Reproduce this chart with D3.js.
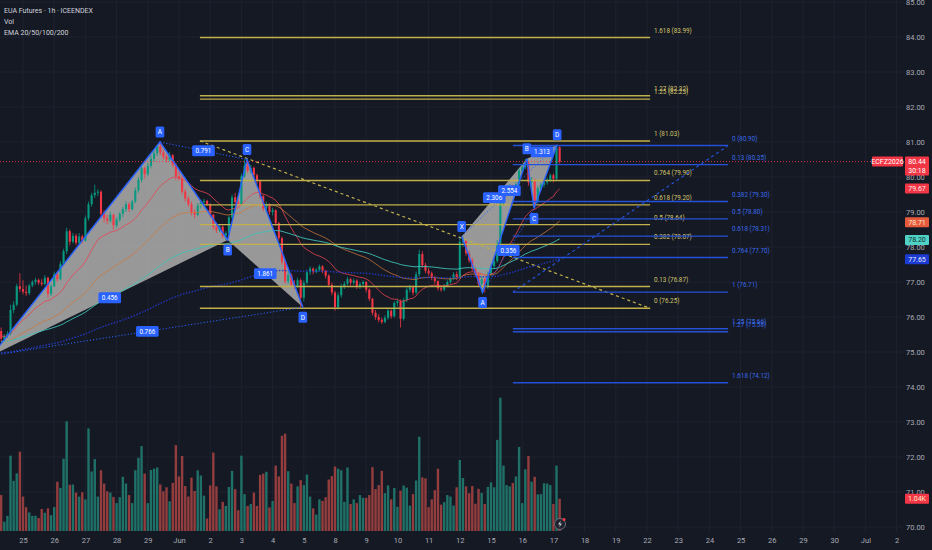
<!DOCTYPE html>
<html>
<head>
<meta charset="utf-8">
<script src="https://cdn.jsdelivr.net/npm/d3@7"></script>
<style>
  html, body { margin: 0; padding: 0; background: #151924; }
  svg { display: block; font-family: Roboto, "Noto Sans", sans-serif; }
</style>
</head>
<body>
<svg id="chart" width="932" height="550"></svg>
<script>
"use strict";

// hourly bars, 22 May (partial) .. 17 Jun
var barOpen = [
  75.60, 75.38, 75.46, 75.52, 76.20, 76.35, 76.88, 76.80, 76.72, 76.68,
  76.90, 77.00, 77.06, 76.98, 76.94, 77.12, 76.66, 76.88, 77.22, 77.08,
  77.52, 77.88, 78.45, 78.15, 78.32, 78.12, 78.30, 78.18, 78.82, 79.22,
  79.48, 79.55, 79.58, 78.95, 78.82, 78.75, 78.92, 78.62, 78.78, 78.95,
  79.08, 79.22, 79.08, 79.30, 79.62, 79.92, 80.25, 80.08, 80.32, 80.52,
  80.68, 80.88, 80.70, 80.58, 80.50, 80.62, 80.35, 80.02, 79.95, 79.58,
  79.38, 79.22, 79.00, 78.92, 79.18, 79.28, 79.32, 79.22, 78.92, 78.58,
  78.48, 78.58, 78.32, 78.40, 78.85, 79.42, 79.28, 79.22, 80.02, 80.32,
  80.18, 80.26, 80.05, 79.88, 79.45, 79.10, 79.22, 79.00, 79.05, 78.68,
  78.25, 77.58, 77.02, 77.20, 76.92, 76.88, 77.05, 76.55, 76.98, 77.28,
  77.38, 77.28, 77.35, 77.45, 77.32, 77.18, 76.92, 76.70, 76.28, 76.62,
  76.88, 76.95, 77.08, 76.98, 77.04, 76.86, 76.94, 77.00, 76.78, 76.52,
  76.12, 76.00, 75.92, 75.86, 75.98, 76.18, 76.02, 76.40, 76.45, 75.95,
  76.48, 76.78, 76.85, 76.70, 77.22, 77.80, 77.48, 77.32, 77.25, 77.12,
  77.02, 76.82, 76.78, 76.90, 77.00, 77.10, 77.22, 77.12, 78.15, 78.18,
  77.82, 77.62, 77.38, 77.22, 76.95, 77.08, 76.85, 77.22, 77.45, 77.60,
  78.10, 79.25, 79.55, 79.65, 79.72, 79.58, 79.80, 80.18, 80.28, 80.40,
  79.85, 79.92, 79.30, 79.68, 79.78, 79.85, 79.92, 80.05, 79.95, 80.85
];
var barHigh = [
  75.70, 75.52, 75.60, 76.35, 76.45, 76.95, 77.25, 77.05, 76.90, 76.95,
  77.05, 77.12, 77.10, 77.08, 77.20, 77.15, 76.95, 77.30, 77.30, 77.60,
  77.95, 78.55, 78.50, 78.40, 78.38, 78.40, 78.35, 78.90, 79.30, 79.55,
  79.78, 79.65, 79.62, 79.05, 78.92, 79.00, 78.95, 78.85, 79.00, 79.15,
  79.30, 79.28, 79.35, 79.70, 80.00, 80.35, 80.30, 80.40, 80.62, 80.75,
  80.92, 81.02, 80.78, 80.65, 80.72, 80.66, 80.40, 80.20, 80.05, 79.65,
  79.45, 79.30, 79.08, 79.25, 79.35, 79.38, 79.35, 79.25, 78.95, 78.70,
  78.65, 78.62, 78.45, 78.90, 79.50, 79.55, 79.35, 80.10, 80.50, 80.45,
  80.35, 80.30, 80.10, 79.92, 79.50, 79.30, 79.25, 79.12, 79.08, 78.72,
  78.30, 77.65, 77.30, 77.25, 77.05, 77.12, 77.10, 77.05, 77.35, 77.45,
  77.42, 77.40, 77.50, 77.48, 77.35, 77.22, 76.98, 76.75, 76.70, 76.95,
  77.02, 77.15, 77.12, 77.10, 77.08, 77.00, 77.05, 77.02, 76.82, 76.55,
  76.20, 76.08, 75.98, 76.05, 76.25, 76.22, 76.45, 76.52, 76.50, 76.55,
  76.85, 76.92, 76.90, 77.30, 77.92, 77.88, 77.55, 77.40, 77.30, 77.18,
  77.05, 76.90, 76.95, 77.05, 77.15, 77.28, 77.30, 78.30, 78.28, 78.20,
  77.90, 77.70, 77.45, 77.28, 77.15, 77.12, 77.30, 77.50, 77.68, 78.20,
  79.35, 79.65, 79.72, 79.80, 79.78, 79.85, 80.25, 80.35, 80.52, 80.45,
  80.00, 79.95, 79.75, 79.85, 79.92, 79.98, 80.10, 80.10, 80.92, 80.88
];
var barLow = [
  75.30, 75.32, 75.40, 75.48, 76.10, 76.30, 76.72, 76.65, 76.60, 76.62,
  76.85, 76.92, 76.92, 76.88, 76.90, 76.55, 76.60, 76.85, 77.00, 77.05,
  77.48, 77.80, 78.05, 78.10, 78.05, 78.08, 78.10, 78.15, 78.75, 79.15,
  79.40, 79.45, 78.85, 78.70, 78.65, 78.70, 78.50, 78.55, 78.72, 78.85,
  79.00, 79.00, 79.05, 79.25, 79.55, 79.85, 79.95, 80.02, 80.25, 80.45,
  80.60, 80.62, 80.50, 80.42, 80.45, 80.28, 79.92, 79.90, 79.50, 79.30,
  79.15, 78.90, 78.82, 78.88, 79.10, 79.15, 79.18, 78.85, 78.50, 78.40,
  78.42, 78.25, 78.20, 78.35, 78.80, 79.20, 79.15, 79.18, 79.98, 80.12,
  80.10, 79.98, 79.80, 79.38, 79.02, 79.00, 78.92, 78.90, 78.60, 78.18,
  77.50, 76.95, 76.95, 76.85, 76.80, 76.82, 76.28, 76.45, 76.92, 77.20,
  77.22, 77.25, 77.30, 77.25, 77.10, 76.85, 76.62, 76.18, 76.22, 76.55,
  76.80, 76.90, 76.90, 76.92, 76.80, 76.80, 76.88, 76.70, 76.45, 76.05,
  75.92, 75.85, 75.80, 75.82, 75.92, 75.95, 75.98, 76.30, 75.70, 75.90,
  76.42, 76.70, 76.62, 76.65, 77.15, 77.40, 77.25, 77.18, 77.05, 76.95,
  76.75, 76.72, 76.74, 76.85, 76.95, 77.05, 77.05, 77.08, 78.00, 77.75,
  77.55, 77.30, 77.15, 76.85, 76.70, 76.70, 76.80, 77.18, 77.40, 77.55,
  78.05, 79.18, 79.45, 79.55, 79.50, 79.52, 79.75, 80.12, 80.22, 79.75,
  79.60, 79.10, 79.25, 79.60, 79.70, 79.78, 79.85, 79.85, 79.90, 80.38
];
var barClose = [
  75.38, 75.46, 75.52, 76.20, 76.35, 76.88, 76.80, 76.72, 76.68, 76.90,
  77.00, 77.06, 76.98, 76.94, 77.12, 76.66, 76.88, 77.22, 77.08, 77.52,
  77.88, 78.45, 78.15, 78.32, 78.12, 78.30, 78.18, 78.82, 79.22, 79.48,
  79.55, 79.58, 78.95, 78.82, 78.75, 78.92, 78.62, 78.78, 78.95, 79.08,
  79.22, 79.08, 79.30, 79.62, 79.92, 80.25, 80.08, 80.32, 80.52, 80.68,
  80.88, 80.70, 80.58, 80.50, 80.62, 80.35, 80.02, 79.95, 79.58, 79.38,
  79.22, 79.00, 78.92, 79.18, 79.28, 79.32, 79.22, 78.92, 78.58, 78.48,
  78.58, 78.32, 78.40, 78.85, 79.42, 79.28, 79.22, 80.02, 80.32, 80.18,
  80.26, 80.05, 79.88, 79.45, 79.10, 79.22, 79.00, 79.05, 78.68, 78.25,
  77.58, 77.02, 77.20, 76.92, 76.88, 77.05, 76.55, 76.98, 77.28, 77.38,
  77.28, 77.35, 77.45, 77.32, 77.18, 76.92, 76.70, 76.28, 76.62, 76.88,
  76.95, 77.08, 76.98, 77.04, 76.86, 76.94, 77.00, 76.78, 76.52, 76.12,
  76.00, 75.92, 75.86, 75.98, 76.18, 76.02, 76.40, 76.45, 75.95, 76.48,
  76.78, 76.85, 76.70, 77.22, 77.80, 77.48, 77.32, 77.25, 77.12, 77.02,
  76.82, 76.78, 76.90, 77.00, 77.10, 77.22, 77.12, 78.15, 78.18, 77.82,
  77.62, 77.38, 77.22, 76.95, 77.08, 76.85, 77.22, 77.45, 77.60, 78.10,
  79.25, 79.55, 79.65, 79.72, 79.58, 79.80, 80.18, 80.28, 80.40, 79.85,
  79.92, 79.30, 79.68, 79.78, 79.85, 79.92, 80.05, 79.95, 80.85, 80.44
];
var barVolume = [
  1160, 300, 490, 2430, 1620, 1860, 2560, 1110, 770, 600,
  490, 490, 420, 710, 590, 730, 510, 770, 1590, 1390,
  2330, 3540, 1490, 1500, 1240, 1110, 1250, 1020, 3310, 1920,
  2320, 1110, 1960, 1530, 1280, 1240, 1100, 900, 1090, 1750,
  1530, 1160, 900, 1960, 2360, 2740, 1850, 900, 1970, 2010,
  2050, 1500, 1280, 1410, 960, 1550, 2770, 1760, 2420, 1450,
  1110, 1720, 1290, 1960, 1790, 1140, 400, 1470, 2530, 1440,
  700, 940, 810, 1420, 1940, 1350, 670, 2430, 1190, 810,
  870, 1240, 810, 1810, 1850, 1910, 760, 970, 2110, 1760,
  3070, 3140, 1930, 1530, 900, 1440, 1640, 1480, 1820, 1110,
  730, 530, 1020, 970, 1090, 1660, 1770, 2080, 2010, 1960,
  940, 2050, 870, 1020, 900, 1160, 1070, 1070, 1160, 2060,
  1350, 1480, 1940, 1220, 1470, 1020, 1390, 780, 1300, 1470,
  1400, 820, 1190, 1630, 3040, 1730, 1700, 770, 1020, 1320,
  2010, 850, 930, 1160, 1110, 820, 1410, 2290, 1710, 1440,
  1220, 1450, 880, 1360, 1230, 870, 1420, 1570, 1410, 2940,
  4300, 2110, 1480, 1440, 1550, 1760, 2710, 900, 1990, 2420,
  1590, 1750, 1180, 1190, 1540, 1530, 1480, 870, 2110, 1040
];

// date axis: one label per trading day, 10 hourly slots a day
var dayLabels = ["25", "26", "27", "28", "29", "Jun", "2", "3", "4", "5", "8", "9", "10", "11", "12",
                 "15", "16", "17", "18", "19", "22", "23", "24", "25", "26", "29", "30", "Jul", "2"];
var priceTicks = [70, 71, 72, 73, 74, 75, 76, 77, 78, 79, 80, 81, 82, 83, 84, 85];

// EMA 20/50/100/200 - start values read at the left edge, last values from the axis tags
var emaPeriods = [20, 50, 100, 200];
var emaStart = [75.45, 75.30, 75.30, 74.98];
var emaTagValues = [79.67, 78.71, 78.20, 77.65];

// harmonic patterns, points as [slot, price]
var pointNames = ["X", "A", "B", "C", "D"];
var leftPattern = [[-3.0, 74.90], [50.9, 81.00], [72.6, 78.20], [78.8, 80.50], [96.7, 76.28]];
var leftRatios = ["0.456", "0.791", "1.861", "0.766"];   // XB, AC, BD, XD
var rightPattern = [[147.6, 78.30], [154.3, 76.70], [168.5, 80.52], [170.8, 79.10], [178.2, 80.92]];
var rightRatios = ["2.306", "0.356", "1.313", "2.554"];

// fib retracements: [slot, price] of start and end, level 0 sits on the end point
var fibLevels = [0, 0.13, 0.382, 0.5, 0.618, 0.764, 1, 1.25, 1.27, 1.618];
var yellowFibFrom = [63.7, 81.030];
var yellowFibTo = [208.0, 76.248];
var blueFibFrom = [164.0, 76.710];
var blueFibTo = [233.0, 80.898];

var lastPriceText = "80.44";
var countdownText = "30:18";
var symbolText = "ECFZ2026";

// ---------------------------------------------------------------

var svg = d3.select('#chart');
var plotRight = 903;
var upColor = '#089981', downColor = '#f23645';
var fibYellow = '#c2b04a', fibYellowText = '#d4c56c';
var fibBlue = '#2451d6', fibBlueText = '#3a6ae8';
var patternBlue = '#2962ff';

var x = d3.scaleLinear().domain([7, 177]).range([23, 553.4]);
var y = d3.scaleLinear().domain([70, 85]).range([527, 2]);
var yVol = d3.scaleLinear().domain([0, 4300]).range([531, 397.7]);

var daySlots = dayLabels.map(function(d, i) { return 7 + 10 * i; });
var bars = d3.range(barClose.length);

svg.append('rect')
  .attr('width', 932).attr('height', 550)
  .attr('fill', '#151924');

// grid
var grid = svg.append('g');
grid.selectAll('.gx')
  .data(daySlots)
  .enter().append('line')
  .attr('x1', function(d) { return x(d); })
  .attr('x2', function(d) { return x(d); })
  .attr('y1', 0).attr('y2', 533)
  .attr('stroke', '#1e2230').attr('stroke-width', 1);
grid.selectAll('.gy')
  .data(priceTicks)
  .enter().append('line')
  .attr('x1', 0).attr('x2', plotRight)
  .attr('y1', function(d) { return y(d); })
  .attr('y2', function(d) { return y(d); })
  .attr('stroke', '#1e2230').attr('stroke-width', 1);

// volume
svg.append('g').selectAll('rect')
  .data(bars)
  .enter().append('rect')
  .attr('x', function(i) { return x(i) - 1.2; })
  .attr('width', 2.4)
  .attr('y', function(i) { return yVol(barVolume[i]); })
  .attr('height', function(i) { return yVol(0) - yVol(barVolume[i]); })
  .attr('fill', function(i) { return barClose[i] >= barOpen[i] ? '#1f7168' : '#933d3e'; });

function pt(p) { return [x(p[0]), y(p[1])]; }

// pattern fills (under the candles)
var fills = svg.append('g');
[leftPattern, rightPattern].forEach(function(pat) {
  [[pat[0], pat[1], pat[2]], [pat[2], pat[3], pat[4]]].forEach(function(tri) {
    fills.append('path')
      .attr('d', 'M' + tri.map(function(p) { return pt(p).join(','); }).join('L') + 'Z')
      .attr('fill', '#a3a3a3')
      .attr('fill-opacity', 0.93);
  });
});

// candles
var candles = svg.append('g');
candles.selectAll('line')
  .data(bars)
  .enter().append('line')
  .attr('x1', function(i) { return x(i); })
  .attr('x2', function(i) { return x(i); })
  .attr('y1', function(i) { return y(barHigh[i]); })
  .attr('y2', function(i) { return y(barLow[i]); })
  .attr('stroke', function(i) { return barClose[i] >= barOpen[i] ? upColor : downColor; })
  .attr('stroke-width', 0.8);
candles.selectAll('rect')
  .data(bars)
  .enter().append('rect')
  .attr('x', function(i) { return x(i) - 1.05; })
  .attr('width', 2.1)
  .attr('y', function(i) { return y(Math.max(barOpen[i], barClose[i])); })
  .attr('height', function(i) { return Math.max(0.8, Math.abs(y(barOpen[i]) - y(barClose[i]))); })
  .attr('fill', function(i) { return barClose[i] >= barOpen[i] ? upColor : downColor; });

// EMAs
function ema(values, period, seed) {
  var k = 2 / (period + 1), prev = seed;
  return values.map(function(v, i) {
    if (i > 0) prev = prev + k * (v - prev);
    return prev;
  });
}
var emaStyles = [
  { color: '#e8434f', width: 0.9, dash: null, opacity: 0.9 },
  { color: '#d07838', width: 0.9, dash: null, opacity: 0.85 },
  { color: '#3ec2b6', width: 1.0, dash: null, opacity: 0.9 },
  { color: '#2338c0', width: 1.4, dash: '1.5,1.5', opacity: 0.95 }
];
var emaLine = d3.line()
  .x(function(d, i) { return x(i); })
  .y(function(d) { return y(d); });
var emaGroup = svg.append('g');
emaPeriods.forEach(function(p, n) {
  emaGroup.append('path')
    .attr('d', emaLine(ema(barClose, p, emaStart[n])))
    .attr('fill', 'none')
    .attr('stroke', emaStyles[n].color)
    .attr('stroke-width', emaStyles[n].width)
    .attr('stroke-opacity', emaStyles[n].opacity)
    .attr('stroke-dasharray', emaStyles[n].dash);
});

// fib retracements
function drawFib(from, to, lineColor, textColor) {
  var g = svg.append('g');
  var x1 = x(Math.min(from[0], to[0])), x2 = x(Math.max(from[0], to[0]));
  fibLevels.forEach(function(lvl) {
    var price = to[1] + lvl * (from[1] - to[1]);
    g.append('line')
      .attr('x1', x1).attr('x2', x2)
      .attr('y1', y(price)).attr('y2', y(price))
      .attr('stroke', lineColor).attr('stroke-width', 1.4);
    g.append('text')
      .attr('x', x2 + 4)
      .attr('y', y(price) - 5)
      .attr('fill', textColor)
      .attr('font-size', '6.3px')
      .text(lvl + ' (' + price.toFixed(2) + ')');
  });
  g.append('line')
    .attr('x1', x(from[0])).attr('y1', y(from[1]))
    .attr('x2', x(to[0])).attr('y2', y(to[1]))
    .attr('stroke', lineColor).attr('stroke-width', 1.2)
    .attr('stroke-dasharray', '3,3');
}
drawFib(yellowFibFrom, yellowFibTo, fibYellow, fibYellowText);
drawFib(blueFibFrom, blueFibTo, fibBlue, fibBlueText);

// harmonic pattern lines and labels
function labelBox(g, cx, cy, text, fontSize) {
  var w = text.length * fontSize * 0.56 + 5;
  var h = fontSize + 4.5;
  if (cx - w / 2 < 0) return;  // off the left edge, not on screen
  g.append('rect')
    .attr('x', cx - w / 2).attr('y', cy - h / 2)
    .attr('width', w).attr('height', h)
    .attr('rx', 1.5)
    .attr('fill', patternBlue);
  g.append('text')
    .attr('x', cx).attr('y', cy)
    .attr('dy', '0.36em')
    .attr('text-anchor', 'middle')
    .attr('fill', '#ffffff')
    .attr('font-size', fontSize + 'px')
    .text(text);
}

function drawPattern(pat, ratios) {
  var g = svg.append('g');
  var p = pat.map(pt);
  var legs = d3.line();
  g.append('path')
    .attr('d', legs(p))
    .attr('fill', 'none')
    .attr('stroke', patternBlue)
    .attr('stroke-width', 1.4);
  [[1, 3], [0, 4]].forEach(function(pair) {
    g.append('line')
      .attr('x1', p[pair[0]][0]).attr('y1', p[pair[0]][1])
      .attr('x2', p[pair[1]][0]).attr('y2', p[pair[1]][1])
      .attr('stroke', patternBlue).attr('stroke-width', 1)
      .attr('stroke-dasharray', '1.2,2');
  });
  // ratio labels on XB, AC, BD, XD
  [[0, 2], [1, 3], [2, 4], [0, 4]].forEach(function(pair, n) {
    labelBox(g, (p[pair[0]][0] + p[pair[1]][0]) / 2, (p[pair[0]][1] + p[pair[1]][1]) / 2, ratios[n], 6.3);
  });
  pat.forEach(function(q, n) {
    var nb = pat[n === 0 ? 1 : n - 1][1];
    var above = q[1] > nb;
    labelBox(g, p[n][0], p[n][1] + (above ? -10 : 10), pointNames[n], 6.5);
  });
}
drawPattern(leftPattern, leftRatios);
drawPattern(rightPattern, rightRatios);

// last price line
var lastPrice = barClose[barClose.length - 1];
svg.append('line')
  .attr('x1', 0).attr('x2', 872)
  .attr('y1', y(lastPrice)).attr('y2', y(lastPrice))
  .attr('stroke', '#f23645').attr('stroke-width', 0.9)
  .attr('stroke-dasharray', '1,2');

// axes
var priceAxis = d3.axisRight(y)
  .tickValues(priceTicks)
  .tickFormat(d3.format('.2f'))
  .tickSize(0)
  .tickPadding(0);
var gPrice = svg.append('g')
  .attr('transform', 'translate(906,0)')
  .call(priceAxis);
var dateAxis = d3.axisBottom(x)
  .tickValues(daySlots)
  .tickFormat(function(d, i) { return dayLabels[i]; })
  .tickSize(0)
  .tickPadding(2);
var gDate = svg.append('g')
  .attr('transform', 'translate(0,536)')
  .call(dateAxis);
[gPrice, gDate].forEach(function(g) {
  g.select('.domain').remove();
  g.selectAll('text')
    .attr('fill', '#a9acb6')
    .attr('font-size', '7.5px')
    .attr('font-family', 'Roboto, "Noto Sans", sans-serif');
});

// axis tags
function tag(x0, w, yc, h, bg, fg, lines) {
  var g = svg.append('g');
  g.append('rect')
    .attr('x', x0).attr('y', yc - 5)
    .attr('width', w).attr('height', h)
    .attr('rx', 1)
    .attr('fill', bg);
  lines.forEach(function(t, n) {
    g.append('text')
      .attr('x', x0 + w / 2).attr('y', yc + n * 9)
      .attr('dy', '0.35em')
      .attr('text-anchor', 'middle')
      .attr('fill', fg)
      .attr('font-size', '7px')
      .text(t);
  });
}
var tagStyles = [['#f23645', '#ffe9e9'], ['#e65a3e', '#ffe6c8'], ['#4fd1c5', '#10302c'], ['#1c3bd2', '#e8ecff']];
emaTagValues.forEach(function(v, n) {
  tag(905, 24, y(v), 10, tagStyles[n][0], tagStyles[n][1], [v.toFixed(2)]);
});
tag(905, 24, y(lastPrice), 19, '#f23645', '#ffffff', [lastPriceText, countdownText]);
tag(872, 31, y(lastPrice), 10, '#f23645', '#ffffff', [symbolText]);
tag(905, 24, yVol(barVolume[barVolume.length - 1]), 10, '#f23645', '#ffe9c8',
    [d3.format('.3s')(barVolume[barVolume.length - 1]).toUpperCase()]);

// replay icon under the last bar
var icon = svg.append('g').attr('transform', 'translate(560,524)');
icon.append('circle').attr('r', 5.5).attr('fill', '#1e222d').attr('stroke', '#6b6e78').attr('stroke-width', 1);
icon.append('path').attr('d', 'M0.8,-3.5L-2,0.6H0L-0.8,3.5L2,-0.6H0Z').attr('fill', '#c8cad0');
icon.append('circle').attr('cx', 4).attr('cy', -4.5).attr('r', 1.5).attr('fill', '#f23645');

// legend
var legend = svg.append('g').attr('fill', '#d1d4dc').attr('font-size', '7px');
legend.append('text').attr('x', 4).attr('y', 13.3).text('EUA Futures \u00b7 1h \u00b7 ICEENDEX');
legend.append('text').attr('x', 4).attr('y', 23.8).text('Vol');
legend.append('text').attr('x', 4).attr('y', 34.6).text('EMA 20/50/100/200');
</script>
</body>
</html>
